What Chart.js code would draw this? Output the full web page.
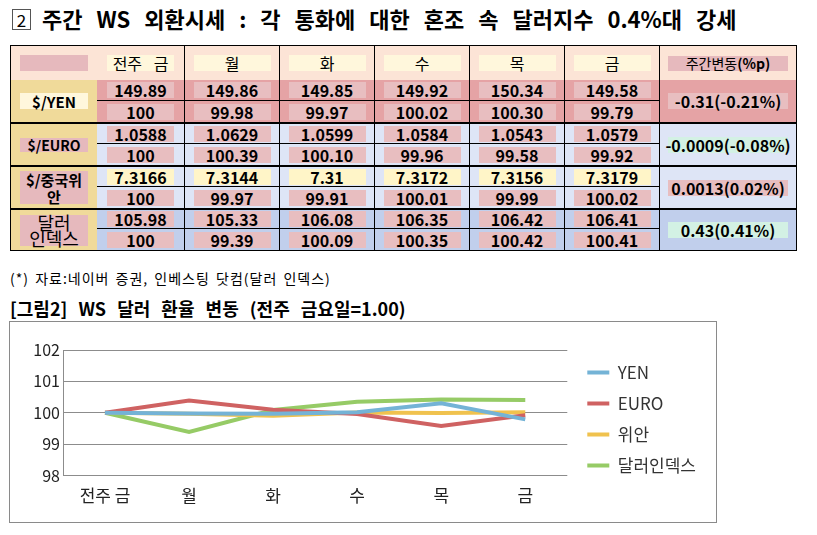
<!DOCTYPE html>
<html>
<head>
<meta charset="utf-8">
<script src="https://cdn.jsdelivr.net/npm/chart.js@4"></script>
<style>
    body { margin: 0; background: #fff; width: 817px; height: 535px; position: relative; overflow: hidden;
           font-family: "Noto Sans CJK KR", sans-serif; color: #000; }
    #titre { position: absolute; left: 42px; top: 3px; font-size: 22px; font-weight: bold; line-height: 30px; word-spacing: 9px; white-space: nowrap; }
    #numero { position: absolute; left: 12px; top: 9px; width: 17px; height: 19px; border: 1px solid #555;
              font-size: 17px; line-height: 19px; text-align: center; }
    #tableau { position: absolute; left: 10px; top: 45px; width: 787px; height: 206px; box-sizing: border-box;
               border: 1px solid #000; display: grid;
               grid-template-columns: 86px 87px 95px 95px 95px 95px 95px 137px;
               grid-template-rows: 34px 21px 21px 22px 21px 22px 21px 21px 21px; }
    .cell { display: flex; align-items: center; justify-content: center; box-sizing: border-box; }
    .box { display: flex; align-items: center; justify-content: center; height: 16px; font-weight: bold; font-size: 16px; white-space: nowrap; }
    .bl { border-left: 1px solid #000; }
    .bb { border-bottom: 1px solid #000; }
    .bt { border-top: 2px solid #000; }
    #source { position: absolute; left: 10px; top: 268px; font-size: 14px; line-height: 20px; letter-spacing: 1px; word-spacing: 2px; white-space: nowrap; }
    #titreGraph { position: absolute; left: 10px; top: 296px; font-size: 18px; font-weight: bold; line-height: 24px; word-spacing: 7px; white-space: nowrap; }
    #cadre { position: absolute; left: 9px; top: 321px; width: 706px; height: 200px; border: 1px solid #8a8a8a; }
    #graphique { display: block; }
</style>
</head>
<body>
<div id="numero">2</div>
<div id="titre">주간 WS 외환시세 : 각 통화에 대한 혼조 속 달러지수 0.4%대 강세</div>
<div id="tableau"></div>
<div id="source">(*) 자료:네이버 증권, 인베스팅 닷컴(달러 인덱스)</div>
<div id="titreGraph">[그림2] WS 달러 환율 변동 (전주 금요일=1.00)</div>
<div id="cadre"><canvas id="graphique" width="706" height="200"></canvas></div>

<script>
// jours de la semaine (colonnes et axe X)
const jours = ["전주 금", "월", "화", "수", "목", "금"];

// cours bruts
const coursYen = ["149.89", "149.86", "149.85", "149.92", "150.34", "149.58"];
const coursEuro = ["1.0588", "1.0629", "1.0599", "1.0584", "1.0543", "1.0579"];
const coursYuan = ["7.3166", "7.3144", "7.31", "7.3172", "7.3156", "7.3179"];
const coursDollar = ["105.98", "105.33", "106.08", "106.35", "106.42", "106.41"];

// indices (vendredi precedent = 100)
const indiceYen = [100, 99.98, 99.97, 100.02, 100.30, 99.79];
const indiceEuro = [100, 100.39, 100.10, 99.96, 99.58, 99.92];
const indiceYuan = [100, 99.97, 99.91, 100.01, 99.99, 100.02];
const indiceDollar = [100, 99.39, 100.09, 100.35, 100.42, 100.41];

// variation hebdo
const variations = ["-0.31(-0.21%)", "-0.0009(-0.08%)", "0.0013(0.02%)", "0.43(0.41%)"];

const seriesNoms = ["YEN", "EURO", "위안", "달러인덱스"];
const couleurs = ["#74B3D6", "#CF6262", "#F0C24E", "#96CB66"];

const tableau = document.getElementById("tableau");

function cellule(html, style, classes) {
    return '<div class="cell ' + (classes || "") + '" style="' + style + '">' + html + '</div>';
}

function boite(texte, largeur, fond, extra) {
    return '<div class="box" style="width:' + largeur + 'px;background:' + fond + ';' + (extra || "") + '">' + texte + '</div>';
}

function formatIndice(v, i) {
    if (i === 0) {
        return "100";
    }
    return v.toFixed(2);
}

let html = "";
// en-tete
html += cellule(boite("", 68, "#E6B9BD"), "background:#FCE4D6;");
jours.forEach(function(j, i) {
    const larg = i === 0 ? 67 : 77;
    html += cellule(boite(j, larg, "#FFF7DC", "font-weight:normal;font-size:16px;word-spacing:8px;"), "background:#FCE4D6;", i > 0 ? "bl" : "");
});
html += cellule(boite('주간변동<b>(%p)</b>', 120, "#E6B9BD", "font-weight:normal;font-size:14px;height:15px;"), "background:#FCE4D6;", "bl");

const lignes = [
    { cours: coursYen, indice: indiceYen, fond: "#E5A3A5", boiteNom: boite("$/YEN", 68, "#FFF7DC", "font-size:15px;"), coulCours: "#E8BEC0", coulVar: "#E8BEC0" },
    { cours: coursEuro, indice: indiceEuro, fond: "#DEE5F6", boiteNom: boite("$/EURO", 68, "#E6B9BD", "font-size:14px;height:14px;"), coulCours: "#E8BEC0", coulVar: "#D3F1E4" },
    { cours: coursYuan, indice: indiceYuan, fond: "#DEE5F6", boiteNom: boite("$/중국위<br>안", 68, "#E6B9BD", "font-size:15px;height:33px;line-height:17px;text-align:center;white-space:normal;"), coulCours: "#FFF5C8", coulVar: "#E8BEC0" },
    { cours: coursDollar, indice: indiceDollar, fond: "#C1CFEC", boiteNom: boite("달러<br>인덱스", 68, "#E6B9BD", "font-size:18px;font-weight:normal;height:31px;line-height:16px;text-align:center;"), coulCours: "#E8BEC0", coulVar: "#D3F1E4" }
];

lignes.forEach(function(ligne, k) {
    const r = 2 + k * 2;
    const sep = k > 0 ? "bt" : "";
    html += cellule(ligne.boiteNom, "background:#F0DA9A;grid-row:" + r + " / span 2;grid-column:1;", sep);
    ligne.cours.forEach(function(c, i) {
        const larg = i === 0 ? 67 : 77;
        html += cellule(boite(c, larg, ligne.coulCours), "background:" + ligne.fond + ";grid-row:" + r + ";grid-column:" + (i + 2) + ";", (i > 0 ? "bl " : "") + "bb " + sep);
    });
    html += cellule(boite(variations[k], 120, ligne.coulVar), "background:" + ligne.fond + ";grid-row:" + r + " / span 2;grid-column:8;", "bl " + sep);
    ligne.indice.forEach(function(v, i) {
        const larg = i === 0 ? 67 : 77;
        html += cellule(boite(formatIndice(v, i), larg, "#E8BEC0"), "background:" + ligne.fond + ";grid-row:" + (r + 1) + ";grid-column:" + (i + 2) + ";", i > 0 ? "bl" : "");
    });
});
tableau.innerHTML = html;

// graphique
const police = "'Noto Sans CJK KR', sans-serif";
const indices = [indiceYen, indiceEuro, indiceYuan, indiceDollar];
const datasets = [];
indices.forEach(function(serie, i) {
    datasets.push({
        label: seriesNoms[i],
        data: serie,
        borderColor: couleurs[i],
        backgroundColor: couleurs[i],
        borderWidth: 4,
        pointRadius: 0,
        tension: 0
    });
});

const ctx = document.getElementById("graphique");
new Chart(ctx, {
    type: "line",
    data: {
        labels: jours,
        datasets: datasets
    },
    options: {
        responsive: false,
        animation: false,
        layout: {
            padding: { top: 28, right: 10, bottom: 14, left: 0 }
        },
        plugins: {
            tooltip: { enabled: false },
            legend: {
                position: "right",
                align: "start",
                maxWidth: 200,
                labels: {
                    boxWidth: 22,
                    boxHeight: 4,
                    padding: 14,
                    color: "#333",
                    font: { family: police, size: 17 },
                    generateLabels: function(chart) {
                        const items = Chart.defaults.plugins.legend.labels.generateLabels(chart);
                        items.forEach(function(it) {
                            it.fillStyle = it.strokeStyle;
                            it.lineWidth = 0;
                        });
                        return items;
                    }
                }
            }
        },
        scales: {
            x: {
                offset: true,
                grid: { display: false },
                border: { display: false },
                ticks: { color: "#222", padding: 2, font: { family: police, size: 17 } }
            },
            y: {
                min: 98,
                max: 102,
                ticks: { stepSize: 1, color: "#222", padding: 3, font: { family: police, size: 16 } },
                grid: { color: "#8c8c8c", drawTicks: false },
                border: { display: true, color: "#8c8c8c" },
                afterFit: function(scale) {
                    scale.width = 53;
                }
            },
            // petit espace entre la zone du graphique et la legende
            espace: {
                position: "right",
                grid: { display: false },
                border: { display: false },
                ticks: { display: false },
                afterFit: function(scale) {
                    scale.width = 6;
                }
            }
        }
    }
});
</script>
</body>
</html>
